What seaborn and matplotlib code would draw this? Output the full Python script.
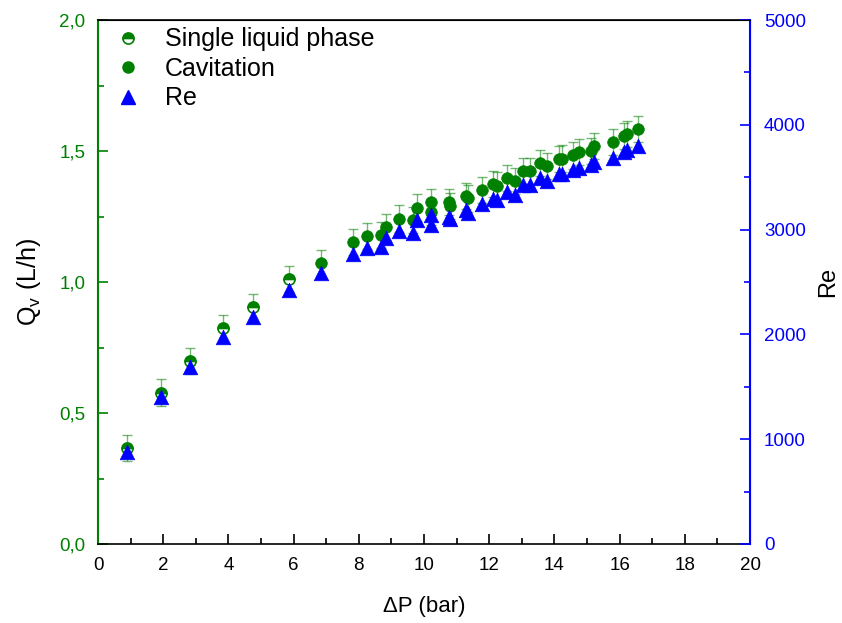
import matplotlib
matplotlib.use("Agg")
import matplotlib.pyplot as plt
import seaborn as sns
import pandas as pd
import numpy as np
from matplotlib.ticker import MultipleLocator, FuncFormatter
from matplotlib.lines import Line2D

# Single liquid phase data
dp_single = [0.90, 1.93, 2.82, 3.82, 4.75, 5.87]
q_single = [0.365, 0.578, 0.700, 0.823, 0.903, 1.010]
re_single = [881, 1400, 1686, 1978, 2169, 2427]

# Cavitation data
dp_cav = [6.84, 7.81, 8.24, 8.67, 8.83, 9.23, 9.65, 9.77, 10.23, 10.23, 10.78, 10.80,
          11.29, 11.36, 11.77, 12.13, 12.25, 12.56, 12.78, 13.03, 13.25, 13.56, 13.78,
          14.13, 14.22, 14.56, 14.76, 15.12, 15.20, 15.79, 16.15, 16.22, 16.57]
q_cav = [1.071, 1.152, 1.176, 1.179, 1.211, 1.242, 1.238, 1.284, 1.304, 1.267, 1.306, 1.290,
         1.328, 1.319, 1.351, 1.374, 1.368, 1.398, 1.387, 1.425, 1.425, 1.453, 1.443,
         1.468, 1.471, 1.483, 1.495, 1.500, 1.519, 1.534, 1.556, 1.565, 1.583]
re_cav = [2583, 2767, 2826, 2837, 2920, 2984, 2972, 3092, 3139, 3045, 3125, 3100,
          3187, 3161, 3244, 3289, 3280, 3357, 3330, 3426, 3426, 3489, 3467,
          3531, 3535, 3565, 3588, 3613, 3645, 3685, 3743, 3760, 3801]
q_err = 0.05

GREEN = "#008000"
BLUE = "#0000ff"

sns.set_style("ticks")
plt.rcParams['font.family'] = ['Liberation Sans', 'DejaVu Sans']
plt.rcParams['mathtext.fontset'] = 'custom'
plt.rcParams['mathtext.rm'] = 'Liberation Sans'
plt.rcParams['mathtext.it'] = 'Liberation Sans:italic'
plt.rcParams['text.color'] = 'black'
plt.rcParams['axes.labelcolor'] = 'black'
plt.rcParams['xtick.color'] = 'black'
plt.rcParams['ytick.color'] = 'black'

fig = plt.figure(figsize=(8.42, 6.23), dpi=100)
ax = fig.add_axes([98/842, 1-544/623, (750-98)/842, (544-20)/623])

df_cav = pd.DataFrame({"dp": dp_cav, "q": q_cav, "re": re_cav})
df_single = pd.DataFrame({"dp": dp_single, "q": q_single, "re": re_single})
df_re = pd.concat([df_single, df_cav], ignore_index=True)

# error bars
ax.errorbar(dp_single + dp_cav, q_single + q_cav, yerr=q_err, fmt='none',
            ecolor=GREEN, alpha=0.55, elinewidth=1.0, capsize=3.8, capthick=1.0, zorder=1)

# single liquid phase: half-filled circles
ax.plot(df_single["dp"], df_single["q"], linestyle='none', marker='o', markersize=8,
        fillstyle='top', markerfacecolor=GREEN, markerfacecoloralt='white',
        markeredgecolor=GREEN, markeredgewidth=1.2, zorder=3)

# cavitation: filled circles
sns.scatterplot(data=df_cav, x="dp", y="q", ax=ax, color=GREEN, marker='o', s=70,
                edgecolor=GREEN, linewidth=0.5, zorder=3, legend=False)

ax.set_xlim(0, 20)
ax.set_ylim(0, 2.0)
ax.xaxis.set_major_locator(MultipleLocator(2))
ax.xaxis.set_minor_locator(MultipleLocator(1))
ax.yaxis.set_major_locator(MultipleLocator(0.5))
ax.yaxis.set_minor_locator(MultipleLocator(0.25))
ax.yaxis.set_major_formatter(FuncFormatter(lambda v, p: f"{v:.1f}".replace('.', ',')))

ax.tick_params(axis='both', which='both', direction='in', labelsize=13.5)
ax.tick_params(axis='both', which='major', length=7.5, width=1.2)
ax.tick_params(axis='both', which='minor', length=4.5, width=1.2)
ax.tick_params(axis='y', which='both', colors=GREEN, labelcolor=GREEN, pad=9)
ax.tick_params(axis='x', which='both', colors='black', labelcolor='black', pad=9)
ax.set_xlabel("ΔP (bar)", fontsize=16, labelpad=16, color='black')
ax.set_ylabel("Q$_\\mathrm{v}$ (L/h)", fontsize=18, labelpad=12, color='black')
for s in ['top', 'bottom']:
    ax.spines[s].set_color('black')
    ax.spines[s].set_linewidth(1.2)
ax.spines['left'].set_color(GREEN)
ax.spines['left'].set_linewidth(1.5)

ax2 = ax.twinx()
sns.scatterplot(data=df_re, x="dp", y="re", ax=ax2, color=BLUE, marker='^', s=110,
                edgecolor=BLUE, linewidth=0.5, zorder=4, legend=False)
ax2.set_ylim(0, 5000)
ax2.set_xlim(0, 20)
ax2.yaxis.set_major_locator(MultipleLocator(1000))
ax2.yaxis.set_minor_locator(MultipleLocator(500))
ax2.tick_params(axis='y', which='both', direction='in', colors=BLUE, labelcolor=BLUE,
                labelsize=13.5, pad=10)
ax2.tick_params(axis='y', which='major', length=7.5, width=1.2)
ax2.tick_params(axis='y', which='minor', length=4.5, width=1.2)
ax2.set_ylabel("Re", fontsize=17, labelpad=8, color='black')
ax2.spines['right'].set_color(BLUE)
ax2.spines['right'].set_linewidth(1.5)
ax2.spines['left'].set_visible(False)
ax2.spines['top'].set_color('black')
ax2.spines['bottom'].set_visible(False)
ax2.set_xlabel("")

handles = [
    Line2D([], [], linestyle='none', marker='o', markersize=8, fillstyle='top',
           markerfacecolor=GREEN, markerfacecoloralt='white', markeredgecolor=GREEN,
           markeredgewidth=1.2),
    Line2D([], [], linestyle='none', marker='o', markersize=8, color=GREEN),
    Line2D([], [], linestyle='none', marker='^', markersize=10, color=BLUE),
]
labels = ["Single liquid phase", "Cavitation", "Re"]
leg = ax2.legend(handles, labels, loc='upper left', bbox_to_anchor=(0.011, 1.005), frameon=False,
                 fontsize=18, handlelength=1.0, handletextpad=1.0, labelspacing=0.22,
                 borderaxespad=0.2, borderpad=0.2)
for t in leg.get_texts():
    t.set_color('black')

fig.savefig("out.png", dpi=100)
